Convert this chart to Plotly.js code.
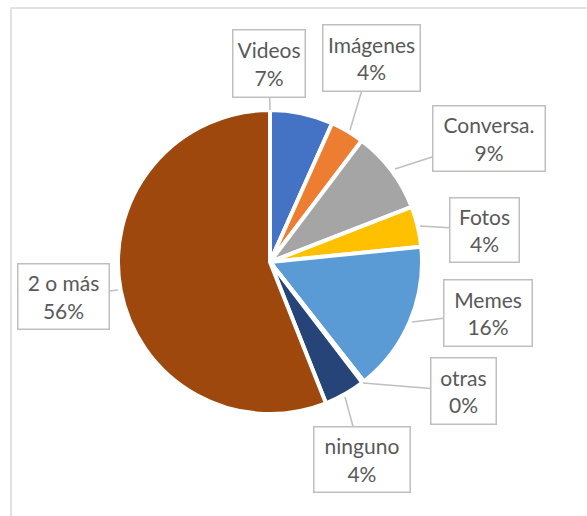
<!DOCTYPE html>
<html>
<head>
<meta charset="utf-8">
<script src="https://cdn.plot.ly/plotly-3.0.1.min.js"></script>
<style>html,body{margin:0;padding:0;background:#fff;}#chart{width:587px;height:516px;}</style>
</head>
<body>
<div id="chart"></div>
<script>
// Data
const categories = ["Videos", "Imágenes", "Conversa.", "Fotos", "Memes", "otras", "ninguno", "2 o más"];
const values = [6.7, 3.6, 8.8, 4.3, 16.0, 0.2, 4.4, 56.0];
const colors = ["#4472C4", "#ED7D31", "#A5A5A5", "#FFC000", "#5B9BD5", "#70AD47", "#264478", "#9E480E"];

// Label layout (pixels): tip point, box centre, box size
const labelTips = [[270,110],[350,130],[395,169],[420,226],[412,322],[363,383],[345,397],[118,290]];
const labelBoxes = [[269,63.5,74,69],[371.5,58,99,68],[489,138.5,114,67],[484.5,230,71,66],[488,313,90,68],[463.5,391,67,68],[362,459.5,98,67],[63.5,296.5,93,67]];

const W = 587, H = 516;
const total = values.reduce((a,b)=>a+b,0);

const annotations = categories.map((c,i)=>{
  const pct = Math.round(values[i]/total*100) + '%';
  const [tx,ty] = labelTips[i];
  const [bx,by,bw,bh] = labelBoxes[i];
  return {
    xref:'paper', yref:'paper',
    x: tx/W, y: 1 - ty/H,
    ax: bx - tx, ay: by - ty,
    text: c + '<br>' + pct,
    showarrow: true, arrowhead: 0, arrowwidth: 1.5, arrowcolor: '#BFBFBF',
    bordercolor: '#BFBFBF', borderwidth: 1.5, borderpad: 0,
    bgcolor: '#FFFFFF',
    width: bw - 3, height: bh - 3,
    align: 'center', valign: 'middle',
    font: {family: 'Lato, "Open Sans", sans-serif', size: 21, color: '#595959'}
  };
});

const trace = {
  type: 'pie',
  labels: categories,
  values: values,
  sort: false,
  direction: 'clockwise',
  rotation: 0,
  textinfo: 'none',
  hoverinfo: 'label+percent',
  marker: {colors: colors, line: {color: '#FFFFFF', width: 4}},
  domain: {x: [118/W, 422/W], y: [1 - 414/H, 1 - 110/H]},
  showlegend: false
};

const layout = {
  width: W, height: H,
  margin: {l:0, r:0, t:0, b:0},
  paper_bgcolor: '#FFFFFF',
  showlegend: false,
  annotations: annotations,
  shapes: [{
    type: 'rect', xref: 'paper', yref: 'paper',
    x0: 11/W, x1: 1.02, y0: -0.02, y1: 1 - 8/H,
    line: {color: '#D9D9D9', width: 1.5}, fillcolor: 'rgba(0,0,0,0)', layer: 'below'
  }]
};

Plotly.newPlot('chart', [trace], layout, {displayModeBar: false, staticPlot: true});
</script>
</body>
</html>
